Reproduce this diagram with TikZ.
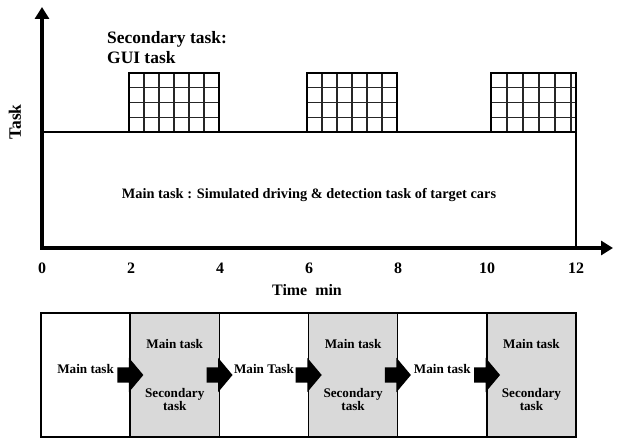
\documentclass[tikz,border=0pt]{standalone}
\usepackage{fontspec}
\setmainfont{Liberation Serif}
\usetikzlibrary{shapes}
\usetikzlibrary{shapes.arrows}
\usetikzlibrary{arrows.meta}
\usetikzlibrary {positioning}
\usetikzlibrary{chains}
\definecolor{taskgray}{HTML}{D9D9D9}

\begin{document}
\begin{tikzpicture}[x=1bp, y=-1bp,
            font=\bfseries,
            node distance = 0bp,
            start chain = going right,
            axis/.style = {line width=4.5bp, line join=miter,
                {Triangle[width=14bp,length=12bp]}-{Triangle[width=14bp,length=12bp]}},
            taskbox/.style = {draw, line width=1.5bp, fill=white, on chain, align=center,
                minimum width=89.17bp, minimum height=124bp, inner sep=0pt, outer sep=0pt,
                font=\bfseries\fontsize{13.2}{14}\selectfont},
            secbox/.style = {taskbox, fill=taskgray},
            blkarrow/.style = {single arrow, fill=black, minimum height=26bp,
                text height=7.5bp, text depth=7.5bp, text width=0pt,
                single arrow head extend=9.5bp,
                single arrow tip angle=100, inner sep=0pt, anchor=tail},
            gridline/.style = {line width=1.4bp, black!85},
            guibox/.style 2 args = {draw, line width=1.8bp, fill=white,
                minimum width=#1, minimum height=59bp, anchor=south west,
                inner sep=0pt, outer sep=0pt,
                path picture={
                    \foreach \k in {1,...,5}
                        \draw[gridline] ([xshift=\k*#2]path picture bounding box.south west)
                            -- ([xshift=\k*#2]path picture bounding box.north west);
                    \foreach \k in {1,2,3}
                        \draw[gridline] ([yshift=\k*14.75bp]path picture bounding box.south west)
                            -- ([yshift=\k*14.75bp]path picture bounding box.south east);}},
            tick/.style = {font=\bfseries\fontsize{16}{18}\selectfont, inner sep=0pt}]
            \useasboundingbox (0,0) rectangle (625,439);
            % upper part: time line
            \node[draw, line width=1.8bp, minimum width=534bp, minimum height=116bp,
                anchor=south west, inner sep=0pt, outer sep=0pt,
                font=\bfseries\fontsize{14.4}{16}\selectfont]
                (main) at (42,248) {\raisebox{-9bp}[0pt][0pt]{Main task : Simulated driving \& detection task of target cars}};
            \foreach \n/\gx/\gw/\gs in {1/129/90/15, 2/307/90/15, 3/491/85/16}
                \node[guibox={\gw bp}{\gs bp}] (gui\n) at (\gx,132) {};
            \node[anchor=north west, inner sep=0pt, align=left,
                font=\bfseries\fontsize{17.5}{20}\selectfont] (seclabel) at (107,31)
                {Secondary task:\\GUI task};
            \coordinate (origin) at (42,248);
            \coordinate (ytip) at (42,7);
            \coordinate (xtip) at (613,248);
            \draw[axis] (ytip) -- (origin) -- (xtip);
            \node[rotate=90, font=\bfseries\fontsize{17.5}{20}\selectfont] (ylabel) at (15,122) {Task};
            \foreach \t in {0,2,...,12}
                \node[tick] (tick\t) at (42+\t*44.5,268) {\t};
            \node[tick] (xlabel) at (307,290) {Time~~min};
            % lower part: task sequence
            \node[taskbox] (m1) at (85.58,375) {\raisebox{1.5bp}[0pt][0pt]{Main task}};
            \node[secbox] (s1) {\raisebox{-2bp}{Main task}\\[37bp]Secondary\\task};
            \node[taskbox] (m2) {\raisebox{1.5bp}[0pt][0pt]{Main Task}};
            \node[secbox] (s2) {\raisebox{-2bp}{Main task}\\[37bp]Secondary\\task};
            \node[taskbox] (m3) {\raisebox{1.5bp}[0pt][0pt]{Main task}};
            \node[secbox] (s3) {\raisebox{-2bp}{Main task}\\[37bp]Secondary\\task};
            \foreach \b in {m1,s1,m2,s2,m3}
                \node[blkarrow] (to\b) at ([xshift=-13bp]\b.east) {};
        \end{tikzpicture}
\end{document}
